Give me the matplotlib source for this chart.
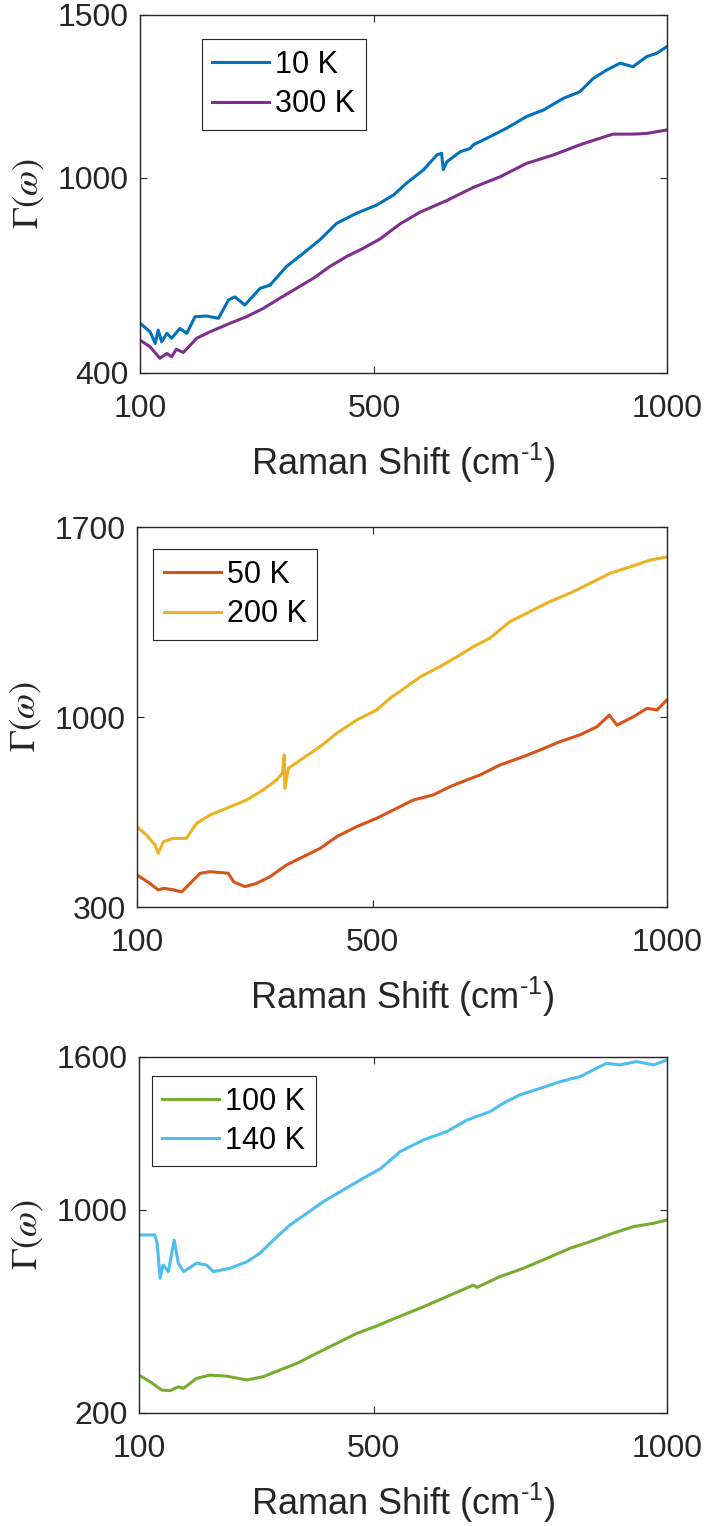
import matplotlib
matplotlib.use("Agg")
import matplotlib.pyplot as plt

# ---- data (Raman shift in cm^-1, Gamma(omega)) ----
x_10K = [100, 117, 126, 131, 137, 146, 154, 168, 180, 194, 214, 234, 251, 262, 279,
         305, 322, 350, 379, 407, 436, 470, 504, 533, 555, 584, 607, 615, 618, 624,
         647, 664, 669, 692, 726, 760, 789, 823, 851, 874, 897, 920, 942, 965, 982, 1000]
y_10K = [553, 527, 491, 532, 496, 522, 507, 537, 522, 573, 575, 568, 624, 634, 609,
         660, 670, 727, 768, 809, 860, 891, 916, 947, 983, 1024, 1070, 1075, 1025, 1049,
         1080, 1090, 1101, 1121, 1152, 1188, 1208, 1244, 1264, 1305, 1331, 1352, 1341, 1372, 1382, 1403]

x_300K = [100, 117, 134, 146, 154, 162, 174, 197, 220, 254, 282, 311, 339, 367, 396,
          424, 453, 481, 510, 544, 578, 624, 669, 715, 760, 806, 851, 885, 908, 942, 965, 1000]
y_300K = [501, 481, 445, 460, 450, 473, 463, 507, 527, 553, 573, 599, 630, 660, 691,
          727, 758, 783, 812, 858, 894, 930, 970, 1003, 1044, 1070, 1101, 1121, 1134, 1134, 1136, 1147]

x_50K = [100, 122, 136, 145, 162, 176, 190, 207, 224, 247, 255, 264, 283, 303, 326,
         354, 382, 411, 439, 473, 507, 535, 569, 603, 631, 660, 682, 716, 756, 784,
         818, 852, 881, 902, 915, 943, 966, 983, 1000]
y_50K = [418, 387, 363, 369, 363, 356, 387, 424, 430, 426, 424, 393, 375, 387, 412,
         455, 485, 516, 559, 596, 627, 657, 694, 713, 743, 768, 786, 823, 854, 878,
         909, 934, 964, 1007, 970, 1001, 1032, 1026, 1063]

x_200K = [100, 116, 131, 136, 145, 162, 184, 201, 224, 258, 286, 314, 337, 347, 350,
          351, 357, 382, 411, 439, 473, 507, 530, 547, 581, 614, 648, 671, 699, 733,
          767, 801, 835, 869, 903, 937, 971, 1000]
y_200K = [596, 565, 528, 498, 541, 553, 553, 608, 639, 669, 694, 731, 768, 793, 860,
          737, 811, 848, 891, 940, 989, 1026, 1070, 1095, 1148, 1185, 1228, 1259, 1290, 1351,
          1388, 1425, 1456, 1492, 1529, 1553, 1578, 1590]

x_100K = [100, 119, 139, 153, 167, 176, 198, 221, 249, 284, 312, 340, 369, 403, 437,
          471, 505, 539, 585, 624, 670, 676, 715, 755, 795, 835, 869, 908, 943, 977, 1000]
y_100K = [349, 323, 290, 288, 303, 297, 336, 349, 345, 330, 343, 369, 395, 435, 474,
          513, 542, 575, 618, 657, 703, 694, 736, 769, 808, 848, 874, 907, 933, 946, 959]

x_140K = [100, 127, 131, 136, 141, 150, 160, 167, 176, 198, 215, 227, 255, 284, 306,
          329, 357, 386, 414, 448, 482, 511, 539, 545, 585, 624, 659, 698, 721, 749,
          784, 818, 852, 880, 897, 920, 948, 977, 1000]
y_140K = [900, 900, 867, 730, 782, 756, 880, 789, 756, 789, 782, 756, 769, 795, 828,
          880, 939, 985, 1031, 1077, 1123, 1160, 1215, 1228, 1274, 1306, 1352, 1385, 1418, 1451,
          1477, 1503, 1523, 1556, 1575, 1569, 1582, 1569, 1588]

x_ticks = [100, 500, 1000]

# matlab default line colours
BLUE, ORANGE, YELLOW = '#0072BD', '#D95319', '#EDB120'
PURPLE, GREEN, CYAN = '#7E2F8E', '#77AC30', '#4DBEEE'

plt.rcParams['font.family'] = ['Liberation Sans', 'DejaVu Sans']
plt.rcParams['mathtext.fontset'] = 'custom'
plt.rcParams['mathtext.rm'] = 'Liberation Sans'
plt.rcParams['mathtext.it'] = 'Liberation Sans:italic'

W, H = 707, 1526
AX_COLOR = '#262626'

fig = plt.figure(figsize=(W / 100, H / 100), dpi=100)


def make_axes(left, right, top, bottom):
    # pixel box -> figure fraction
    return fig.add_axes([left / W, 1 - bottom / H, (right - left) / W, (bottom - top) / H])


def style_panel(ax, yticks, legend_xy):
    ax.set_xlim(100, 1000)
    ax.set_ylim(yticks[0], yticks[-1])
    ax.set_xticks(x_ticks)
    ax.set_yticks(yticks)
    ax.tick_params(direction='in', length=5, width=0.8, top=True, right=True,
                   labelsize=23, colors=AX_COLOR)
    ax.tick_params(axis='x', pad=15)
    ax.tick_params(axis='y', pad=8)
    for s in ax.spines.values():
        s.set_color(AX_COLOR)
        s.set_linewidth(1.0)
    ax.set_xlabel(r'Raman Shift (cm$^{\text{-}1}$)', fontsize=26, color=AX_COLOR, labelpad=12)
    ax.set_ylabel(r'$\Gamma(\omega)$', fontsize=26, color=AX_COLOR, labelpad=8,
                  math_fontfamily='stix')
    leg = ax.legend(loc='upper left', bbox_to_anchor=legend_xy, borderaxespad=0,
                    fontsize=22, fancybox=False, framealpha=1, edgecolor=AX_COLOR,
                    handlelength=1.85, handletextpad=0.2, borderpad=0.35,
                    labelspacing=0.3)
    leg.get_frame().set_linewidth(0.8)


lw = 2.2

ax1 = make_axes(140, 667, 15, 373)
ax1.plot(x_10K, y_10K, color=BLUE, lw=lw, label='10 K')
ax1.plot(x_300K, y_300K, color=PURPLE, lw=lw, label='300 K')
style_panel(ax1, [400, 1000, 1500], (0.117, 0.932))

ax2 = make_axes(137, 667, 527, 907)
ax2.plot(x_50K, y_50K, color=ORANGE, lw=lw, label='50 K')
ax2.plot(x_200K, y_200K, color=YELLOW, lw=lw, label='200 K')
style_panel(ax2, [300, 1000, 1700], (0.031, 0.941))

ax3 = make_axes(139, 667, 1057, 1413)
ax3.plot(x_100K, y_100K, color=GREEN, lw=lw, label='100 K')
ax3.plot(x_140K, y_140K, color=CYAN, lw=lw, label='140 K')
style_panel(ax3, [200, 1000, 1600], (0.024, 0.947))

fig.savefig('out.png', dpi=100)
